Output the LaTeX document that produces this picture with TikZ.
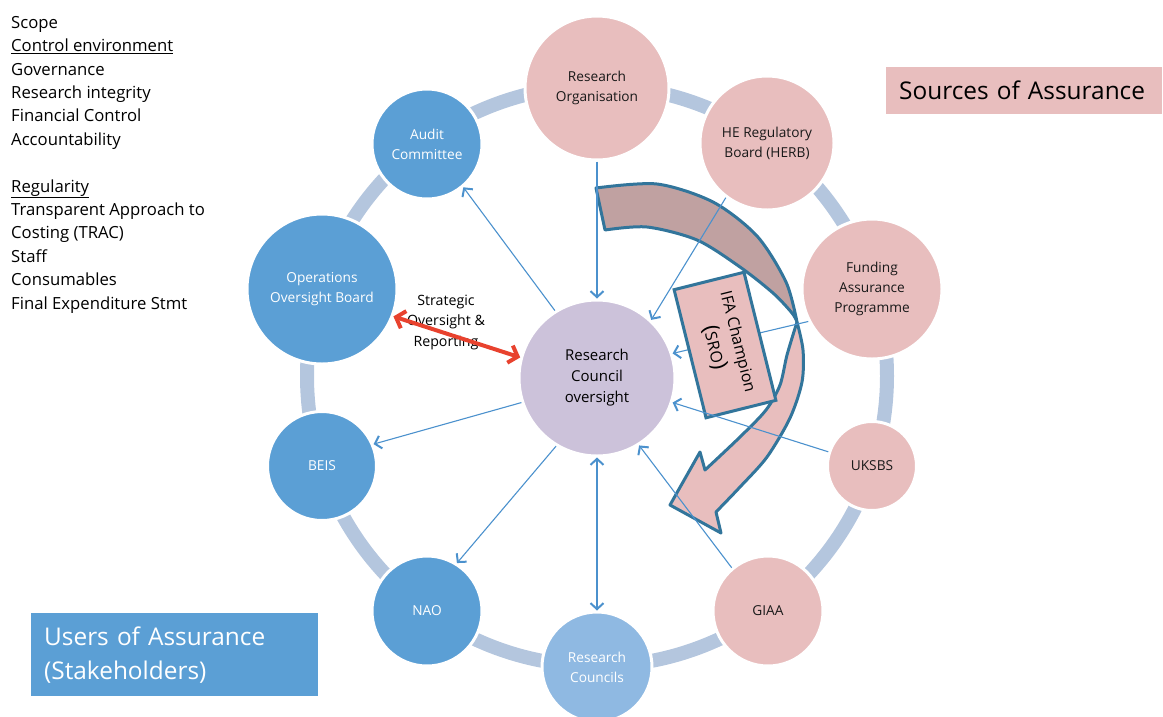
\documentclass[tikz,border=0pt]{standalone}
\usepackage{fontspec}
\setmainfont{Open Sans}
\usetikzlibrary{arrows.meta}
\usetikzlibrary{positioning}
\definecolor{srcpink}{RGB}{232,190,190}
\definecolor{usrblue}{RGB}{91,159,213}
\definecolor{rcblue}{RGB}{143,185,226}
\definecolor{ctrlilac}{RGB}{204,194,218}
\definecolor{ringblue}{RGB}{180,198,222}
\definecolor{linkblue}{RGB}{75,145,205}
\definecolor{edgeblue}{RGB}{50,117,155}
\definecolor{darkpink}{RGB}{192,161,161}
\definecolor{redlink}{RGB}{232,66,46}

\tikzset{
ball/.style={circle,draw=white,line width=3pt,inner sep=0pt,align=center,font=\fontsize{13.7}{20}\selectfont},
source/.style={ball,fill=srcpink,text=black!90},
user/.style={ball,fill=usrblue,text=white},
link/.style={linkblue,line width=1.1pt,-{Straight Barb[length=6pt,width=13pt,line width=2pt]}},
twoway/.style={linkblue,line width=1.1pt,{Straight Barb[length=6pt,width=13pt,line width=2pt]}-{Straight Barb[length=6pt,width=13pt,line width=2pt]}},
band/.style={draw=edgeblue,line width=3pt,line join=round}
}

\begin{document}
\begin{tikzpicture}[x=1pt,y=-1pt]
\useasboundingbox (0,0) rectangle (1163,716);
\draw[ringblue,line width=14pt] (597,376) circle[radius=290pt];

% curved arrow
\filldraw[band,fill=darkpink] (596,188) -- plot[smooth] coordinates {(596,188) (657,184) (713,202) (757,236) (786,282) (797,322)} -- plot[smooth] coordinates {(797,322) (792,313) (773,293) (740,267) (697,240) (647,227) (605,230)} -- cycle;
\filldraw[band,fill=srcpink] (797,322) -- plot[smooth] coordinates {(797,322) (803,350) (802,382) (790,418) (767,457) (740,487) (716,512)} -- (721,533) -- (670,505) -- (700,452) -- (705,470) -- plot[smooth] coordinates {(705,470) (740,437) (766,410) (780,385) (787,355) (797,322)} -- cycle;

\node[source,minimum size=144pt] (ro) at (597,88) {Research\\Organisation};
\node[source,minimum size=134pt] (herb) at (767,143) {HE Regulatory\\Board (HERB)};
\node[source,minimum size=140pt] (fap) at (872,289) {Funding\\Assurance\\Programme};
\node[source,minimum size=89pt] (uksbs) at (872,466) {UKSBS};
\node[source,minimum size=110pt] (giaa) at (768,611) {GIAA};
\node[ball,fill=rcblue,text=white,minimum size=110pt] (rcs) at (597,667) {Research\\Councils};
\node[user,minimum size=110pt] (nao) at (427,611) {NAO};
\node[user,minimum size=109pt] (beis) at (322,466) {BEIS};
\node[user,minimum size=150pt] (oob) at (322,289) {Operations\\Oversight Board};
\node[user,minimum size=110pt] (ac) at (427,144) {Audit\\Committee};
\node[ball,fill=ctrlilac,minimum size=156pt,font=\fontsize{15}{21}\selectfont] (ctr) at (597,378) {Research\\Council\\oversight};

\draw[link] (fap.207) -- (ctr.18);
\node[draw=edgeblue,line width=3pt,fill=srcpink,rotate=-76,minimum width=132pt,minimum height=72pt,align=center,font=\fontsize{16}{25}\selectfont] (ifa) at (725,345) {IFA Champion\\{\fontsize{22}{25}\selectfont(}SRO{\fontsize{22}{25}\selectfont)}};

\draw[link] (ro) -- (ctr);
\draw[link] (herb.233) -- (ctr.47);
\draw[link] (uksbs.162) -- (ctr.-18);
\draw[link] (giaa.130) -- (ctr.-58);
\draw[twoway] (ctr) -- (rcs);
\draw[link] (ctr.122) -- (ac.-50);
\draw[link] (ctr.198) -- (beis.23);
\draw[link] (ctr.239) -- (nao.58);

\node[align=center,font=\fontsize{14.2}{20.5}\selectfont] (strat) at (446,322) {Strategic\\Oversight \&\\Reporting};
\draw[redlink,line width=4pt,{Straight Barb[length=8pt,width=18pt]}-{Straight Barb[length=8pt,width=18pt]}] (oob.-21) -- (ctr.165);

\node[anchor=north west,inner sep=0pt,align=left,font=\fontsize{16.7}{23.4}\selectfont] (scope) at (11,16) {Scope\\\underline{Control environment}\\Governance\\Research integrity\\Financial Control\\Accountability\\[23.4pt]\underline{Regularity}\\Transparent Approach to\\Costing (TRAC)\\Staff\\Consumables\\Final Expenditure Stmt};

\node[fill=srcpink,anchor=north west,minimum height=47pt,text width=250pt,inner xsep=13pt,inner ysep=0pt,font=\fontsize{24.4}{28}\selectfont] (src) at (886,67) {\raisebox{-2pt}{Sources of Assurance}};
\node[fill=usrblue,text=white,anchor=north west,minimum height=83pt,text width=261pt,inner xsep=13pt,inner ysep=0pt,align=left,font=\fontsize{24.4}{34}\selectfont] (usr) at (31,613) {Users of Assurance\\(Stakeholders)};
\end{tikzpicture}
\end{document}
